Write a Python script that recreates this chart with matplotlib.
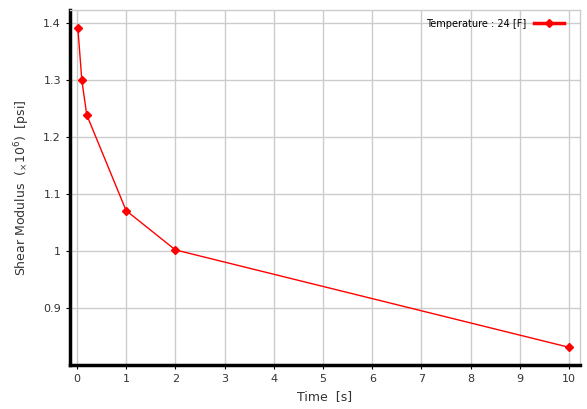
import numpy as np
import matplotlib.pyplot as plt

time_s = [0.02, 0.1, 0.2, 1, 2, 10]
shear = [1.391, 1.300, 1.239, 1.071, 1.002, 0.831]
xticks = list(range(0, 11))
yticks = [0.9, 1.0, 1.1, 1.2, 1.3, 1.4]
ylabels = ['0.9', '1', '1.1', '1.2', '1.3', '1.4']

fig = plt.figure(figsize=(5.87, 4.09), dpi=100)
ax = fig.add_axes([70/587, 1-365/409, 510/587, 355/409])

ax.plot(time_s, shear, color='#ff0000', lw=1, marker='D', ms=4,
        label='Temperature : 24 [F]')

ax.set_xlim(-0.14, 10.22)
ax.set_ylim(0.8, 1.423)
ax.set_xticks(xticks)
ax.set_yticks(yticks)
ax.set_yticklabels(ylabels)
ax.grid(True, color='#cccccc', lw=1)
ax.set_axisbelow(True)

for s in ['left', 'bottom']:
    ax.spines[s].set_linewidth(2.5)
    ax.spines[s].set_color('black')
for s in ['top', 'right']:
    ax.spines[s].set_linewidth(1)
    ax.spines[s].set_color('#cccccc')

ax.tick_params(labelsize=8, colors='#333333', length=3)
ax.tick_params(axis='both', color='black')
ax.set_xlabel('Time  [s]', fontsize=9, color='#333333')
ax.set_ylabel('Shear Modulus  ($_{\\times}10^6$)  [psi]', fontsize=9,
              color='#333333', labelpad=8)

leg = ax.legend(loc='upper right', frameon=False, markerfirst=False,
                fontsize=7, handlelength=3, borderaxespad=0.5,
                bbox_to_anchor=(0.985, 1.0))
for l in leg.get_lines():
    l.set_linewidth(2.5)

fig.savefig('out.png', dpi=100)
